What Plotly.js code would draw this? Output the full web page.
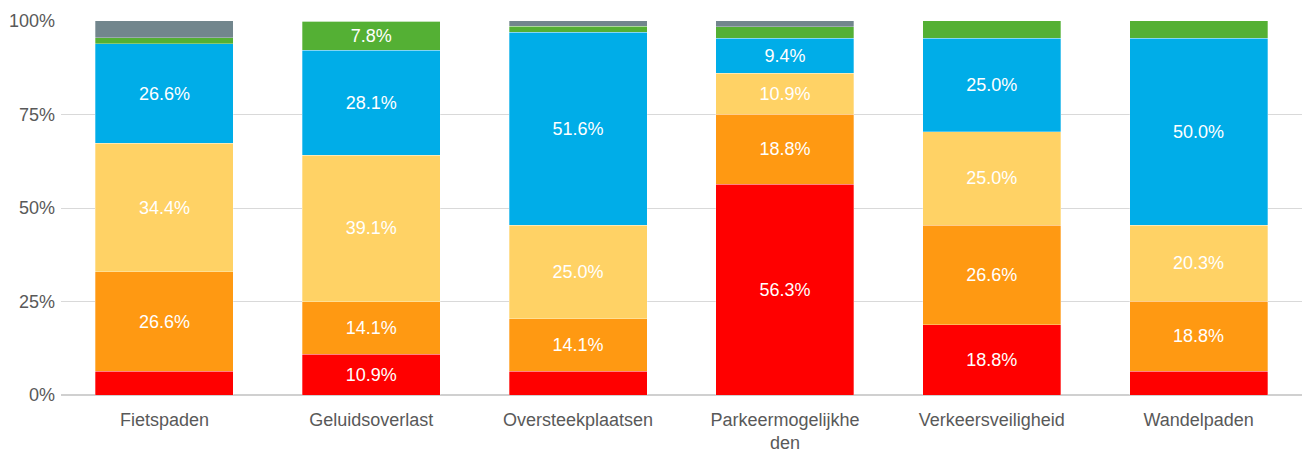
<!DOCTYPE html>
<html>
<head>
<meta charset="utf-8">
<script src="https://cdn.plot.ly/plotly-3.0.1.min.js"></script>
<style>html,body{margin:0;padding:0;background:#fff;}#chart{width:1302px;height:455px;}</style>
</head>
<body>
<div id="chart"></div>
<script>
const categories = ["Fietspaden", "Geluidsoverlast", "Oversteekplaatsen", "Parkeermogelijkhe<br>den", "Verkeersveiligheid", "Wandelpaden"];
const seriesRed    = [6.3, 10.9, 6.3, 56.3, 18.8, 6.3];
const seriesOrange = [26.6, 14.1, 14.1, 18.8, 26.6, 18.8];
const seriesYellow = [34.4, 39.1, 25.0, 10.9, 25.0, 20.3];
const seriesBlue   = [26.6, 28.1, 51.6, 9.4, 25.0, 50.0];
const seriesGreen  = [1.6, 7.8, 1.6, 3.1, 4.7, 4.7];
const seriesGray   = [4.7, 0, 1.6, 1.6, 0, 0];
const yTicks = [0, 25, 50, 75, 100];

const series = [
  {name: "Zeer slecht", values: seriesRed, color: "#FF0000"},
  {name: "Slecht", values: seriesOrange, color: "#FF9912"},
  {name: "Neutraal", values: seriesYellow, color: "#FFD265"},
  {name: "Goed", values: seriesBlue, color: "#00ADE8"},
  {name: "Zeer goed", values: seriesGreen, color: "#54B034"},
  {name: "Weet niet", values: seriesGray, color: "#72868D"}
];

const FONT = "Liberation Sans, Arial, sans-serif";

const traces = series.map(s => ({
  type: "bar",
  name: s.name,
  x: categories,
  y: s.values,
  marker: {color: s.color, line: {color: "rgba(255,255,255,0.6)", width: 0.5}},
  text: s.values.map(v => v >= 7 ? v.toFixed(1) + "%" : ""),
  textposition: "inside",
  insidetextanchor: "middle",
  textangle: 0,
  textfont: {family: FONT, size: 18, color: "#ffffff"},
  hoverinfo: "x+y+name"
}));

const layout = {
  width: 1302,
  height: 455,
  margin: {l: 61, r: 0, t: 21, b: 60},
  barmode: "stack",
  bargap: 0.333,
  showlegend: false,
  paper_bgcolor: "#ffffff",
  plot_bgcolor: "#ffffff",
  font: {family: FONT, size: 18, color: "#595959"},
  xaxis: {
    type: "category",
    tickfont: {family: FONT, size: 18, color: "#595959"},
    showgrid: false,
    showline: false,
    ticks: "",
    ticklabelstandoff: 12,
    automargin: false
  },
  yaxis: {
    range: [0, 100],
    tickvals: yTicks,
    ticktext: yTicks.map(v => v + "%"),
    tickfont: {family: FONT, size: 18, color: "#595959"},
    gridcolor: "#d9d9d9",
    gridwidth: 1,
    zeroline: true,
    zerolinecolor: "#d0d0d0",
    zerolinewidth: 2,
    ticks: "",
    ticklen: 0,
    ticklabelstandoff: 5,
    automargin: false
  },
  uniformtext: {mode: "hide", minsize: 10}
};

Plotly.newPlot("chart", traces, layout, {displayModeBar: false, staticPlot: true});
</script>
</body>
</html>
